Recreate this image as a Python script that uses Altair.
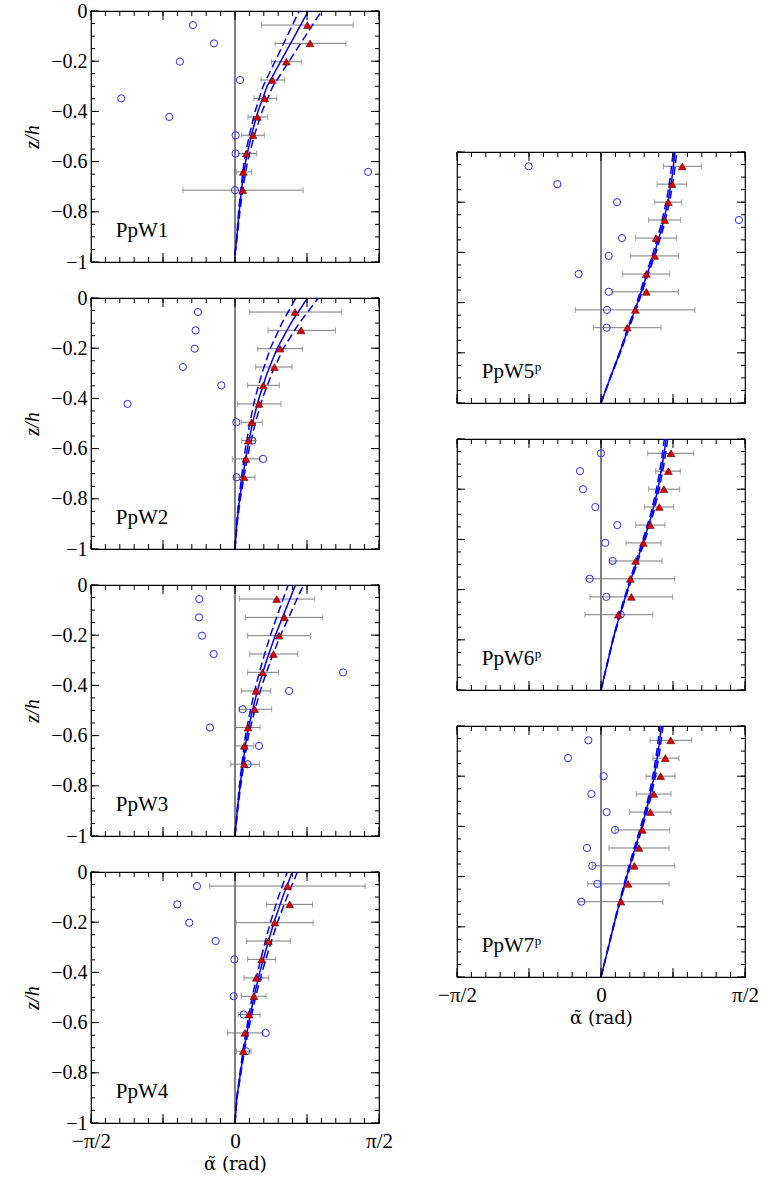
import math
import altair as alt
import pandas as pd

PI = math.pi

# ---------------- data ----------------
Z_LEFT = [-0.056, -0.129, -0.202, -0.275, -0.348, -0.422, -0.495, -0.568, -0.641, -0.714]
Z_RIGHT = [-0.057, -0.128, -0.200, -0.271, -0.343, -0.414, -0.486, -0.557, -0.629, -0.700]
Z_FIT = [-1.0, -0.9, -0.8, -0.7, -0.6, -0.5, -0.4, -0.3, -0.2, -0.1, 0.0]
Z_FIT_W1 = [-0.97, -0.9, -0.8, -0.7, -0.6, -0.5, -0.4, -0.3, -0.2, -0.1, 0.0]

W1_CIRCLE = [-0.459, -0.229, -0.601, 0.055, -1.241, -0.717, 0.007, 0.007, 1.452, 0.0]
W1_TRI = [0.790, 0.819, 0.561, 0.408, 0.324, 0.244, 0.197, 0.124, 0.091, 0.084]
W1_LO = [0.291, 0.437, 0.397, 0.284, 0.207, 0.142, 0.073, 0.036, 0.015, -0.568]
W1_HI = [1.289, 1.209, 0.724, 0.542, 0.455, 0.357, 0.320, 0.237, 0.182, 0.743]
W1_FIT = [0.0, 0.02, 0.045, 0.075, 0.115, 0.175, 0.25, 0.35, 0.50, 0.65, 0.80]
W1_FIT_LO = [0.0, 0.018, 0.039, 0.066, 0.10, 0.153, 0.219, 0.306, 0.438, 0.569, 0.70]
W1_FIT_HI = [0.0, 0.024, 0.053, 0.089, 0.136, 0.207, 0.295, 0.413, 0.59, 0.767, 0.945]

W2_CIRCLE = [-0.404, -0.430, -0.440, -0.568, -0.149, -1.172, 0.015, 0.189, 0.306, 0.018]
W2_TRI = [0.655, 0.721, 0.491, 0.430, 0.309, 0.262, 0.182, 0.146, 0.120, 0.098]
W2_LO = [0.160, 0.360, 0.248, 0.226, 0.138, 0.025, 0.069, 0.073, -0.029, -0.018]
W2_HI = [1.165, 1.096, 0.735, 0.622, 0.484, 0.502, 0.299, 0.218, 0.273, 0.218]
W2_FIT = [0.0, 0.02, 0.05, 0.09, 0.135, 0.19, 0.26, 0.35, 0.46, 0.61, 0.79]
W2_FIT_LO = [0.0, 0.017, 0.042, 0.076, 0.113, 0.16, 0.218, 0.294, 0.386, 0.512, 0.663]
W2_FIT_HI = [0.0, 0.023, 0.058, 0.104, 0.155, 0.219, 0.299, 0.403, 0.529, 0.70, 0.91]

W3_CIRCLE = [-0.390, -0.393, -0.360, -0.233, 1.179, 0.590, 0.084, -0.273, 0.262, 0.138]
W3_TRI = [0.455, 0.539, 0.481, 0.419, 0.302, 0.229, 0.215, 0.142, 0.102, 0.102]
W3_LO = [0.047, 0.113, 0.138, 0.160, 0.138, 0.069, 0.044, 0.007, -0.004, -0.047]
W3_HI = [0.870, 0.957, 0.823, 0.684, 0.477, 0.390, 0.400, 0.273, 0.204, 0.266]
W3_FIT = [0.0, 0.025, 0.055, 0.09, 0.13, 0.19, 0.26, 0.345, 0.44, 0.55, 0.66]
W3_FIT_LO = [0.0, 0.022, 0.048, 0.079, 0.114, 0.167, 0.228, 0.303, 0.386, 0.482, 0.58]
W3_FIT_HI = [0.0, 0.028, 0.062, 0.102, 0.147, 0.215, 0.294, 0.39, 0.497, 0.622, 0.746]

W4_CIRCLE = [-0.415, -0.630, -0.499, -0.211, -0.007, 0.255, -0.015, 0.095, 0.335, 0.120]
W4_TRI = [0.572, 0.597, 0.433, 0.364, 0.291, 0.233, 0.207, 0.153, 0.109, 0.091]
W4_LO = [-0.277, 0.346, 0.011, 0.127, 0.138, 0.098, 0.069, 0.036, -0.080, 0.015]
W4_HI = [1.420, 0.845, 0.852, 0.604, 0.444, 0.368, 0.339, 0.273, 0.306, 0.175]
W4_FIT = [0.0, 0.02, 0.06, 0.10, 0.15, 0.205, 0.27, 0.345, 0.425, 0.52, 0.625]
W4_FIT_LO = [0.0, 0.018, 0.055, 0.091, 0.137, 0.187, 0.246, 0.314, 0.387, 0.473, 0.57]
W4_FIT_HI = [0.0, 0.022, 0.065, 0.109, 0.164, 0.223, 0.294, 0.376, 0.463, 0.567, 0.68]

W5_CIRCLE = [-0.789, -0.476, 0.175, 1.505, 0.229, 0.084, -0.244, 0.084, 0.065, 0.062]
W5_TRI = [0.887, 0.775, 0.735, 0.695, 0.600, 0.585, 0.495, 0.495, 0.375, 0.287]
W5_LO = [0.680, 0.611, 0.582, 0.520, 0.378, 0.320, 0.236, 0.127, -0.280, -0.084]
W5_HI = [1.095, 0.935, 0.880, 0.869, 0.822, 0.847, 0.749, 0.844, 1.025, 0.655]
W5_FIT = [0.0, 0.10, 0.205, 0.30, 0.40, 0.49, 0.585, 0.665, 0.73, 0.775, 0.807]
W5_FIT_LO = [0.0, 0.097, 0.20, 0.292, 0.39, 0.478, 0.57, 0.648, 0.712, 0.756, 0.787]
W5_FIT_HI = [0.0, 0.103, 0.21, 0.308, 0.41, 0.502, 0.60, 0.682, 0.748, 0.794, 0.827]

W6_CIRCLE = [0.0, -0.229, -0.196, -0.062, 0.178, 0.047, 0.127, -0.124, 0.058, 0.215]
W6_TRI = [0.764, 0.735, 0.687, 0.636, 0.538, 0.462, 0.378, 0.320, 0.331, 0.189]
W6_LO = [0.509, 0.596, 0.520, 0.476, 0.378, 0.273, 0.098, -0.156, -0.120, -0.175]
W6_HI = [1.011, 0.865, 0.858, 0.793, 0.698, 0.655, 0.665, 0.804, 0.782, 0.564]
W6_FIT = [0.0, 0.065, 0.13, 0.205, 0.29, 0.38, 0.47, 0.555, 0.62, 0.67, 0.71]
W6_FIT_LO = [0.0, 0.063, 0.127, 0.20, 0.283, 0.37, 0.458, 0.541, 0.605, 0.653, 0.692]
W6_FIT_HI = [0.0, 0.067, 0.133, 0.21, 0.297, 0.39, 0.482, 0.569, 0.635, 0.687, 0.728]

W7_CIRCLE = [-0.138, -0.360, 0.029, -0.105, 0.062, 0.153, -0.153, -0.095, -0.040, -0.215]
W7_TRI = [0.760, 0.702, 0.651, 0.575, 0.538, 0.451, 0.415, 0.364, 0.295, 0.218]
W7_LO = [0.535, 0.567, 0.491, 0.385, 0.313, 0.156, 0.087, -0.095, -0.145, -0.240]
W7_HI = [0.989, 0.851, 0.807, 0.764, 0.764, 0.749, 0.742, 0.804, 0.742, 0.676]
W7_FIT = [0.0, 0.068, 0.135, 0.205, 0.28, 0.36, 0.445, 0.52, 0.58, 0.625, 0.66]
W7_FIT_LO = [0.0, 0.066, 0.132, 0.20, 0.273, 0.351, 0.434, 0.507, 0.566, 0.609, 0.644]
W7_FIT_HI = [0.0, 0.07, 0.138, 0.21, 0.287, 0.369, 0.456, 0.533, 0.595, 0.641, 0.677]

NAMES = ["PpW1", "PpW2", "PpW3", "PpW4", "PpW5", "PpW6", "PpW7"]
NAME_SUPS = ["", "", "", "", "p", "p", "p"]

# ---------------- axis labels / ticks ----------------
Y_LABEL_VALUES = [0, -0.2, -0.4, -0.6, -0.8, -1]
X_LABEL_VALUES = [-PI / 2, 0, PI / 2]
X_LABEL_TEXT = ["\u2212\u03c0/2", "0", "\u03c0/2"]
X_TITLE = "\u03b1\u0303 (rad)"
Y_TITLE = "z/h"
X_MINOR = [k * PI / 20 for k in range(-10, 11)]
X_MAJOR = [k * PI / 4 for k in range(-2, 3)]
Y_MINOR = [-k * 0.05 for k in range(21)]
Y_MAJOR = [-k * 0.2 for k in range(6)]

W, H = 288, 251
FONT = "Liberation Serif"
BLUE = "#0000ff"
CIRC_BLUE = "#2a2aff"
RED = "#e00000"
GRAY = "#7a7a7a"

label_expr = (
    f"datum.value < -0.1 ? '{X_LABEL_TEXT[0]}' : "
    f"(datum.value > 0.1 ? '{X_LABEL_TEXT[2]}' : '{X_LABEL_TEXT[1]}')"
)


def panel(name, sup, z, circ, tri, lo, hi, zf, fit, fit_lo, fit_hi, left_axis, bottom_axis):
    xscale = alt.Scale(domain=[-PI / 2, PI / 2], nice=False, zero=False)
    yscale = alt.Scale(domain=[-1, 0], nice=False, zero=False)
    if bottom_axis:
        xaxis = alt.Axis(values=X_LABEL_VALUES, labelExpr=label_expr, ticks=False, tickSize=0,
                         domain=False, grid=False, labelFlush=False, labelOverlap=False,
                         labelFontSize=21, title=X_TITLE, titleFont="DejaVu Serif",
                         titleFontSize=18, labelPadding=7, titlePadding=4)
    else:
        xaxis = None
    if left_axis:
        yaxis = alt.Axis(values=Y_LABEL_VALUES, format="~g", ticks=False, tickSize=0,
                         domain=False, grid=False, labelOverlap=False, title=Y_TITLE,
                         titleFontStyle="italic", labelPadding=4, titlePadding=8)
    else:
        yaxis = None

    def X(f):
        return alt.X(f, type="quantitative", scale=xscale, axis=xaxis)

    def Y(f):
        return alt.Y(f, type="quantitative", scale=yscale, axis=yaxis)

    pts = pd.DataFrame({"z": z, "circ": circ, "tri": tri, "lo": lo, "hi": hi})
    caps = pd.DataFrame({"z": list(z) + list(z), "a": list(lo) + list(hi)})
    fit_df = pd.DataFrame({"z": zf, "a": fit})
    band_df = pd.DataFrame({"z": list(zf) + list(zf), "a": list(fit_lo) + list(fit_hi),
                            "k": ["lo"] * len(zf) + ["hi"] * len(zf)})
    zero_df = pd.DataFrame({"a": [0.0]})
    lab_df = pd.DataFrame({"a": [-1.30], "z": [-0.90], "name": [name], "sup": [sup]})
    xmin = pd.DataFrame({"v": X_MINOR})
    xmaj = pd.DataFrame({"v": X_MAJOR})
    ymin = pd.DataFrame({"v": Y_MINOR})
    ymaj = pd.DataFrame({"v": Y_MAJOR})

    layers = [
        alt.Chart(zero_df).mark_rule(color="black", strokeWidth=1).encode(x=X("a")),
        alt.Chart(pts).mark_rule(color=GRAY, strokeWidth=1).encode(x=X("lo"), x2="hi", y=Y("z")),
        alt.Chart(caps).mark_tick(orient="vertical", size=6, thickness=1, color=GRAY).encode(
            x=X("a"), y=Y("z")),
        alt.Chart(band_df).mark_line(color=BLUE, strokeWidth=1.5, strokeDash=[8, 4], clip=True).encode(
            x=X("a"), y=Y("z"), detail="k:N", order="z:Q"),
        alt.Chart(fit_df).mark_line(color=BLUE, strokeWidth=1.5, clip=True).encode(
            x=X("a"), y=Y("z"), order="z:Q"),
        alt.Chart(pts).mark_point(shape="circle", filled=False, size=52, color=CIRC_BLUE,
                                  strokeWidth=1, opacity=1).encode(x=X("circ"), y=Y("z")),
        alt.Chart(pts).mark_point(shape="triangle-up", filled=True, fill=RED, stroke="#500000",
                                  strokeWidth=0.6, size=60, opacity=1).encode(x=X("tri"), y=Y("z")),
        alt.Chart(lab_df).mark_text(align="left", baseline="alphabetic", font=FONT, fontSize=21,
                                    color="black").encode(x=X("a"), y=Y("z"), text="name:N"),
        alt.Chart(lab_df).mark_text(align="left", baseline="alphabetic", font=FONT, fontSize=13,
                                    color="black", dx=53, dy=-7).encode(x=X("a"), y=Y("z"), text="sup:N"),
        # inward ticks on all four sides
        alt.Chart(xmin).mark_rule(color="black", strokeWidth=1).encode(
            x=X("v"), y=alt.value(H), y2=alt.value(H - 5)),
        alt.Chart(xmin).mark_rule(color="black", strokeWidth=1).encode(
            x=X("v"), y=alt.value(0), y2=alt.value(5)),
        alt.Chart(xmaj).mark_rule(color="black", strokeWidth=1).encode(
            x=X("v"), y=alt.value(H), y2=alt.value(H - 9)),
        alt.Chart(xmaj).mark_rule(color="black", strokeWidth=1).encode(
            x=X("v"), y=alt.value(0), y2=alt.value(9)),
        alt.Chart(ymin).mark_rule(color="black", strokeWidth=1).encode(
            y=Y("v"), x=alt.value(0), x2=alt.value(4)),
        alt.Chart(ymin).mark_rule(color="black", strokeWidth=1).encode(
            y=Y("v"), x=alt.value(W), x2=alt.value(W - 4)),
        alt.Chart(ymaj).mark_rule(color="black", strokeWidth=1).encode(
            y=Y("v"), x=alt.value(0), x2=alt.value(8)),
        alt.Chart(ymaj).mark_rule(color="black", strokeWidth=1).encode(
            y=Y("v"), x=alt.value(W), x2=alt.value(W - 8)),
    ]
    return alt.layer(*layers).properties(width=W, height=H)


p1 = panel(NAMES[0], NAME_SUPS[0], Z_LEFT, W1_CIRCLE, W1_TRI, W1_LO, W1_HI, Z_FIT_W1, W1_FIT, W1_FIT_LO, W1_FIT_HI, True, False)
p2 = panel(NAMES[1], NAME_SUPS[1], Z_LEFT, W2_CIRCLE, W2_TRI, W2_LO, W2_HI, Z_FIT, W2_FIT, W2_FIT_LO, W2_FIT_HI, True, False)
p3 = panel(NAMES[2], NAME_SUPS[2], Z_LEFT, W3_CIRCLE, W3_TRI, W3_LO, W3_HI, Z_FIT, W3_FIT, W3_FIT_LO, W3_FIT_HI, True, False)
p4 = panel(NAMES[3], NAME_SUPS[3], Z_LEFT, W4_CIRCLE, W4_TRI, W4_LO, W4_HI, Z_FIT, W4_FIT, W4_FIT_LO, W4_FIT_HI, True, True)
p5 = panel(NAMES[4], NAME_SUPS[4], Z_RIGHT, W5_CIRCLE, W5_TRI, W5_LO, W5_HI, Z_FIT, W5_FIT, W5_FIT_LO, W5_FIT_HI, False, False)
p6 = panel(NAMES[5], NAME_SUPS[5], Z_RIGHT, W6_CIRCLE, W6_TRI, W6_LO, W6_HI, Z_FIT, W6_FIT, W6_FIT_LO, W6_FIT_HI, False, False)
p7 = panel(NAMES[6], NAME_SUPS[6], Z_RIGHT, W7_CIRCLE, W7_TRI, W7_LO, W7_HI, Z_FIT, W7_FIT, W7_FIT_LO, W7_FIT_HI, False, True)

spacer = alt.Chart(pd.DataFrame({"a": [0.0]})).mark_point(opacity=0).encode(
    x=alt.X("a:Q", axis=None), y=alt.Y("a:Q", axis=None)
).properties(width=W, height=105, view=alt.ViewBackground(stroke="transparent"))

left = alt.vconcat(p1, p2, p3, p4, spacing=36, bounds="flush")
right = alt.vconcat(spacer, p5, p6, p7, spacing=36, bounds="flush")

chart = alt.hconcat(left, right, spacing=43).configure_view(
    stroke="black", strokeWidth=1.2
).configure_axis(
    labelFont=FONT, titleFont=FONT, labelFontSize=20, titleFontSize=20,
    labelColor="black", titleColor="black", titleFontWeight="normal"
).properties(padding={"left": 22, "top": 0, "right": 0, "bottom": 0}, background="white")

chart.save("out.html", embed_options={"renderer": "svg", "actions": False})
